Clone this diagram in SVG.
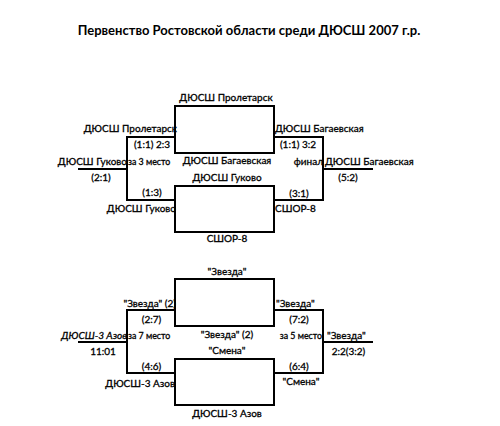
<svg xmlns="http://www.w3.org/2000/svg" width="500" height="426" viewBox="0 0 500 426">
<style>
.t{font-family:Lato,"Open Sans","DejaVu Sans",sans-serif;font-size:10px;fill:#000;stroke:#000;stroke-width:0.3}
.s{font-size:8.8px}
.m{text-anchor:middle}
.e{text-anchor:end}
.i{font-style:italic}
.title{font-family:Lato,"Open Sans","DejaVu Sans",sans-serif;font-size:13px;font-weight:bold;text-anchor:middle;fill:#000}
.box{fill:#fff;stroke:#000;stroke-width:2}
.ln{fill:none;stroke:#000;stroke-width:2}
</style>
<rect width="500" height="426" fill="#fff"/>
<text class="title" x="249" y="35">Первенство Ростовской области среди ДЮСШ 2007 г.р.</text>

<g id="connectors">
<path class="ln" d="M175 137H127V200H175M78 169H127"/>
<path class="ln" d="M274 137H323V200H274M323 169H373"/>
<path class="ln" d="M175 310H127V373H175M78 342H127"/>
<path class="ln" d="M274 310H323V373H274M323 342H373"/>
</g>

<g id="semi1-box">
<rect class="box" x="175" y="106" width="99" height="47"/>
<text class="t m" x="226" y="101">ДЮСШ Пролетарск</text>
<text class="t m" x="227" y="164">ДЮСШ Багаевская</text>
</g>
<g id="semi2-box">
<rect class="box" x="175" y="186" width="99" height="46"/>
<text class="t m" x="227" y="180.5">ДЮСШ Гуково</text>
<text class="t m" x="227" y="242">СШОР-8</text>
</g>
<g id="third-place">
<text class="t e" x="177" y="132">ДЮСШ Пролетарск</text>
<text class="t m" x="152" y="148">(1:1) 2:3</text>
<text class="t e" x="127" y="165">ДЮСШ Гуково</text>
<text class="t s" x="128" y="165">за 3 место</text>
<text class="t m" x="101" y="181">(2:1)</text>
<text class="t m" x="152" y="196">(1:3)</text>
<text class="t e" x="176" y="212">ДЮСШ Гуково</text>
</g>
<g id="final">
<text class="t" x="275" y="132">ДЮСШ Багаевская</text>
<text class="t m" x="298" y="148">(1:1) 3:2</text>
<text class="t e" x="323" y="165">финал</text>
<text class="t" x="325" y="165">ДЮСШ Багаевская</text>
<text class="t m" x="348" y="181">(5:2)</text>
<text class="t m" x="299" y="197">(3:1)</text>
<text class="t" x="275" y="212">СШОР-8</text>
</g>

<g id="match5-box">
<rect class="box" x="175" y="279" width="99" height="47"/>
<text class="t m" x="227" y="275">"Звезда"</text>
<text class="t m" x="227" y="338">"Звезда" (2)</text>
</g>
<g id="match6-box">
<rect class="box" x="175" y="359" width="99" height="46"/>
<text class="t m" x="227" y="354">"Смена"</text>
<text class="t m" x="227" y="417">ДЮСШ-3 Азов</text>
</g>
<g id="seventh-place">
<text class="t e" x="176" y="306.5">"Звезда" (2)</text>
<text class="t m" x="151.5" y="323">(2:7)</text>
<text class="t e i" x="127" y="339">ДЮСШ-3 Азов</text>
<text class="t s" x="128" y="339">за 7 место</text>
<text class="t m" x="103" y="355">11:01</text>
<text class="t m" x="151.5" y="370">(4:6)</text>
<text class="t e" x="175" y="386.5">ДЮСШ-3 Азов</text>
</g>
<g id="fifth-place">
<text class="t" x="276" y="306.5">"Звезда"</text>
<text class="t m" x="299" y="323">(7:2)</text>
<text class="t s e" x="322" y="339">за 5 место</text>
<text class="t" x="327" y="339">"Звезда"</text>
<text class="t m" x="348.5" y="355">2:2(3:2)</text>
<text class="t m" x="299" y="370">(6:4)</text>
<text class="t m" x="301" y="385">"Смена"</text>
</g>
</svg>
